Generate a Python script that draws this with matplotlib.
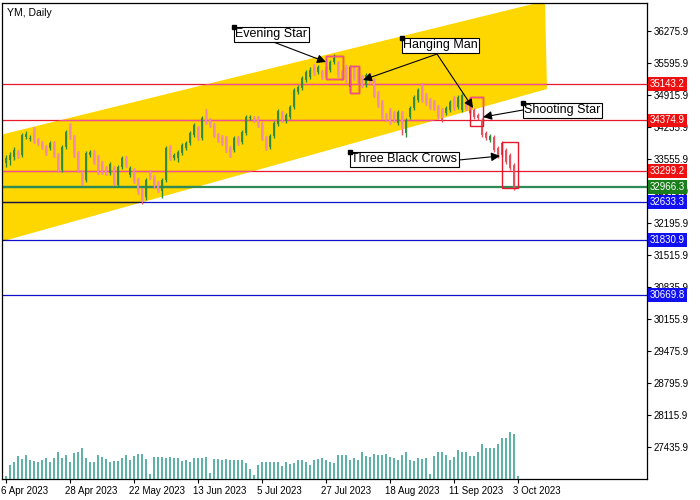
import numpy as np
import matplotlib.pyplot as plt
from matplotlib.patches import Polygon, Rectangle
from matplotlib.transforms import ScaledTranslation, blended_transform_factory

plt.rcParams['font.family'] = ['Liberation Sans', 'DejaVu Sans']

title = "YM, Daily"

# daily OHLC, one value per bar (6 Apr 2023 .. 3 Oct 2023)
opens = [33471, 33535, 33598, 33705, 33641, 34023, 33981, 34130, 33960, 33896,
         33811, 33790, 33896, 33641, 33322, 33811, 34278, 34023, 33683, 33280,
         33110, 33641, 33683, 33598, 33471, 33365, 33258, 33365, 33003, 33386,
         33577, 33216, 33322, 33110, 32897, 32748, 33280, 33173, 33046, 32876,
         33110, 33811, 33577, 33577, 33683, 33790, 33896, 34066, 34215, 34002,
         34427, 34385, 34278, 34066, 34023, 34002, 33790, 33747, 34002, 33917,
         34108, 34427, 34427, 34427, 34300, 34002, 33811, 34045, 34300, 34533,
         34363, 34448, 34661, 34980, 35065, 35235, 35298, 35511, 35405, 35405,
         35490, 35447, 35617, 35596, 35405, 35511, 35086, 35490, 35447, 35298,
         35128, 35341, 35235, 34958, 34767, 34470, 34597, 34533, 34321, 34533,
         34108, 34448, 34640, 34810, 35128, 34916, 34810, 34767, 34661, 34597,
         34533, 34597, 34852, 34661, 34597, 34767, 34703, 34597, 34491, 34385,
         34108, 33960, 34023, 33790, 33896, 33747, 33641, 33428, 32990]
highs = [33641, 33705, 33811, 33747, 34108, 34151, 34066, 34236, 34002, 33938,
         33853, 33938, 33938, 33683, 33853, 34172, 34321, 34066, 33726, 33322,
         33726, 33747, 33747, 33641, 33513, 33407, 33492, 33407, 33428, 33620,
         33620, 33407, 33365, 33152, 32940, 33152, 33322, 33216, 33088, 33152,
         33832, 33853, 33683, 33747, 33896, 33938, 34151, 34321, 34257, 34470,
         34618, 34427, 34321, 34108, 34066, 34045, 33832, 34045, 34045, 34172,
         34491, 34491, 34470, 34470, 34342, 34045, 34087, 34363, 34618, 34576,
         34533, 34703, 35065, 35128, 35320, 35447, 35511, 35575, 35553, 35447,
         35532, 35660, 35787, 35638, 35447, 35553, 35553, 35532, 35490, 35341,
         35383, 35383, 35277, 35001, 34810, 34533, 34640, 34576, 34597, 34576,
         34427, 34682, 34916, 35065, 35171, 34958, 34852, 34810, 34703, 34640,
         34682, 34810, 34895, 34916, 34958, 34810, 34746, 34640, 34533, 34427,
         34151, 34087, 34066, 33832, 33938, 33790, 33683, 33471, 33010]
lows = [33386, 33428, 33535, 33577, 33598, 33981, 33938, 33896, 33853, 33768,
        33641, 33747, 33598, 33280, 33280, 33768, 33981, 33598, 33280, 33003,
        33067, 33598, 33450, 33237, 33237, 33216, 33216, 33003, 32961, 33343,
        33386, 33173, 33046, 32812, 32600, 32685, 33131, 32940, 32855, 32727,
        33067, 33535, 33535, 33492, 33641, 33747, 33853, 34023, 33960, 33960,
        34300, 34236, 34023, 33917, 33853, 33705, 33598, 33705, 33853, 33875,
        34066, 34385, 34342, 34236, 33960, 33747, 33768, 34002, 34257, 34342,
        34321, 34406, 34618, 34937, 35022, 35192, 35256, 35341, 35362, 35256,
        35298, 35405, 35575, 35298, 35235, 35192, 35022, 35235, 35150, 35086,
        35086, 35150, 34873, 34661, 34406, 34363, 34300, 34342, 34278, 34066,
        34023, 34406, 34597, 34767, 34767, 34703, 34618, 34597, 34406, 34342,
        34491, 34555, 34597, 34618, 34555, 34597, 34491, 34406, 34385, 34023,
        33960, 33917, 33705, 33577, 33598, 33450, 33322, 32897, 32940]
closes = [33577, 33641, 33747, 33641, 34066, 34087, 34002, 33938, 33896, 33811,
          33683, 33896, 33641, 33322, 33811, 34130, 34023, 33641, 33322, 33110,
          33683, 33705, 33492, 33280, 33280, 33258, 33450, 33046, 33386, 33577,
          33428, 33365, 33088, 32855, 32685, 33110, 33173, 32982, 32897, 33110,
          33790, 33577, 33641, 33705, 33853, 33896, 34108, 34278, 34002, 34427,
          34342, 34278, 34066, 33960, 33896, 33747, 33705, 34002, 33896, 34130,
          34448, 34448, 34385, 34278, 34002, 33790, 34045, 34321, 34576, 34385,
          34491, 34661, 35022, 35086, 35277, 35405, 35447, 35383, 35511, 35298,
          35341, 35617, 35702, 35341, 35277, 35235, 35511, 35277, 35192, 35128,
          35341, 35192, 34916, 34703, 34448, 34427, 34342, 34385, 34555, 34215,
          34385, 34640, 34873, 35022, 34810, 34746, 34661, 34640, 34448, 34385,
          34640, 34767, 34640, 34873, 34916, 34640, 34533, 34448, 34427, 34066,
          34002, 34045, 33747, 33620, 33641, 33492, 33365, 32940, 32966]
volumes = [2700, 14000, 17300, 23300, 20000, 24000, 19300, 18300, 16700, 19000,
           20700, 16700, 21300, 26700, 21000, 24000, 16700, 26000, 27300, 31300,
           20700, 16700, 16700, 24000, 21700, 20000, 16700, 18300, 18300, 20700,
           24000, 19000, 22700, 25000, 25000, 20000, 5000, 22300, 22300, 22300,
           21300, 22300, 21000, 21000, 18300, 19300, 16700, 21000, 20700, 21300,
           22300, 6000, 19700, 19700, 19000, 19700, 18700, 18700, 18700, 18700,
           15700, 10000, 4000, 14000, 17300, 17300, 17300, 17300, 17300, 13300,
           17300, 14700, 16000, 18700, 19300, 16700, 14300, 18700, 20000, 21000,
           19300, 17300, 15700, 24000, 24000, 24000, 18700, 21300, 19300, 27300,
           22700, 22000, 25300, 24300, 24000, 25300, 22000, 20700, 19000, 24000,
           27300, 19300, 18000, 20700, 20000, 21300, 5000, 23300, 26700, 26700,
           24000, 19300, 22000, 29000, 26700, 27300, 22700, 22700, 26700, 35300,
           31300, 31300, 31300, 34700, 40700, 41300, 46700, 45300, 2700]

date_bars = [0, 16, 32, 48, 64, 80, 96, 112, 128]
date_labels = ['6 Apr 2023', '28 Apr 2023', '22 May 2023', '13 Jun 2023', '5 Jul 2023',
               '27 Jul 2023', '18 Aug 2023', '11 Sep 2023', '3 Oct 2023']

price_ticks = [36275.9, 35595.9, 34915.9, 34235.9, 33555.9, 32875.9, 32195.9,
               31515.9, 30835.9, 30155.9, 29475.9, 28795.9, 28115.9, 27435.9]

level_prices = [35143.2, 34374.9, 33299.2, 32966.3, 32633.3, 31830.9, 30669.8]
level_kinds = ['res', 'res', 'res', 'bid', 'sup', 'sup', 'sup']

# yellow channel corners (bar index, price)
channel_bars = [-1.5, 134.75, 135.25, -1.5]
channel_prices = [34066, 36913, 35043, 31792]

# pattern rectangles
box_bars = [(80, 84.25), (86, 88.25), (116, 119.25), (124, 128)]
box_prices = [(35256, 35745), (34958, 35532), (34257, 34873), (32940, 33917)]

# labels: text, anchor, arrow start, arrow targets
label_texts = ['Evening Star', 'Hanging Man', 'Shooting Star', 'Three Black Crows']
label_anchors = [(57, 36361), (99, 36127), (129.25, 34746), (86, 33705)]
arrow_starts = [(57, 36361), (107.75, 35787), (129.25, 34597), (113.25, 33535)]
arrow_targets = [[(80, 35617)],
                 [(89.25, 35235), (116.75, 34640)],
                 [(119.25, 34448)],
                 [(123.5, 33620)]]

UP = '#2E8B3C'
DOWN_OUT = '#E8505E'
DOWN_IN = '#F08CB2'
RED_OUT = '#E8192C'
RED_IN = '#F0509A'
level_colors = {'res': (RED_OUT, RED_IN, '#EE1111'),
                'bid': ('#2E8B57', '#2E8B57', '#1A7F1A'),
                'sup': ('#1010C8', '#141440', '#1010F0')}


def draw_candles(ax, mask, color, x, o, h, l, c, clip=None):
    wicks = ax.vlines(x[mask], l[mask], h[mask], color=color, lw=1, zorder=2)
    body = c[mask] - o[mask]
    body = np.where(np.abs(body) < 15, 15, body)
    bars = ax.bar(x[mask], body, bottom=o[mask], width=0.7, color=color,
                  linewidth=0, zorder=2.1)
    if clip is not None:
        wicks.set_clip_path(clip)
        for b in bars:
            b.set_clip_path(clip)


def main():
    fig = plt.figure(figsize=(7, 5), dpi=100)
    ax = fig.add_axes([2 / 700, 21 / 500, 645 / 700, 476 / 500])
    ax.set_xlim(-1, 160.25)
    ax.set_ylim(26756, 36871)

    chan_xy = list(zip(channel_bars, channel_prices))
    ax.add_patch(Polygon(chan_xy, closed=True, fc='#FFD700', ec='none', zorder=0))
    clip = Polygon(chan_xy, closed=True, transform=ax.transData)

    # horizontal levels with price tags on the right
    trans = blended_transform_factory(ax.transAxes, ax.transData)
    for price, kind in zip(level_prices, level_kinds):
        out_col, in_col, tag_col = level_colors[kind]
        lw = 1.6 if kind == 'bid' else 0.9
        ax.axhline(price, color=out_col, lw=lw, zorder=1)
        ln = ax.axhline(price, color=in_col, lw=lw, zorder=1.1)
        ln.set_clip_path(clip)
        ax.text(1.0045, price, f'{price:.1f}', transform=trans, ha='left', va='center',
                color='white', fontsize=7, clip_on=False, zorder=10,
                bbox=dict(boxstyle='square,pad=0.2', fc=tag_col, ec='none'))

    x = np.arange(len(opens))
    o = np.array(opens, dtype=float)
    h = np.array(highs, dtype=float)
    l = np.array(lows, dtype=float)
    c = np.array(closes, dtype=float)
    up = c >= o
    draw_candles(ax, up, UP, x, o, h, l, c)
    draw_candles(ax, ~up, DOWN_OUT, x, o, h, l, c)
    draw_candles(ax, ~up, DOWN_IN, x, o, h, l, c, clip=clip)

    for (b0, b1), (p0, p1) in zip(box_bars, box_prices):
        ax.add_patch(Rectangle((b0, p0), b1 - b0, p1 - p0, fill=False,
                               ec=RED_OUT, lw=1, zorder=3))
        r = Rectangle((b0, p0), b1 - b0, p1 - p0, fill=False, ec=RED_IN, lw=1, zorder=3.1)
        ax.add_patch(r)
        r.set_clip_path(clip)

    for text, anchor, start, targets in zip(label_texts, label_anchors,
                                            arrow_starts, arrow_targets):
        for t in targets:
            ax.annotate('', xy=t, xytext=start, zorder=4,
                        arrowprops=dict(arrowstyle='-|>', color='black', lw=0.8,
                                        mutation_scale=13, shrinkA=0, shrinkB=0))
        ax.text(anchor[0] + 0.3, anchor[1] - 25, text, ha='left', va='top',
                fontsize=9, zorder=5,
                bbox=dict(boxstyle='square,pad=0.12', fc='white', ec='black', lw=0.8))
        ax.plot(anchor[0], anchor[1], 's', color='black', ms=3, zorder=6)

    # volumes along the bottom of the pane
    ax2 = ax.twinx()
    ax2.set_ylim(0, 476000)
    ax2.vlines(x, 0, volumes, color='#2E9B8B', lw=1.1)
    ax2.set_yticks([])
    for s in ax2.spines.values():
        s.set_visible(False)

    ax.yaxis.tick_right()
    ax.set_yticks(price_ticks)
    ax.set_yticklabels([f'{p:.1f}' for p in price_ticks])
    ax.tick_params(axis='y', length=3, width=0.8, pad=1.5, labelsize=7)
    ax.set_xticks(date_bars)
    ax.set_xticklabels(date_labels, ha='left')
    ax.tick_params(axis='x', length=3, width=0.8, pad=2, labelsize=7)
    shift = ScaledTranslation(-0.05, 0, fig.dpi_scale_trans)
    for lab in ax.get_xticklabels():
        lab.set_transform(lab.get_transform() + shift)
    for s in ax.spines.values():
        s.set_linewidth(0.9)

    ax.text(0.008, 0.99, title, transform=ax.transAxes, ha='left', va='top',
            fontsize=7.5, zorder=6)

    fig.savefig('out.png', dpi=100)


if __name__ == '__main__':
    main()
